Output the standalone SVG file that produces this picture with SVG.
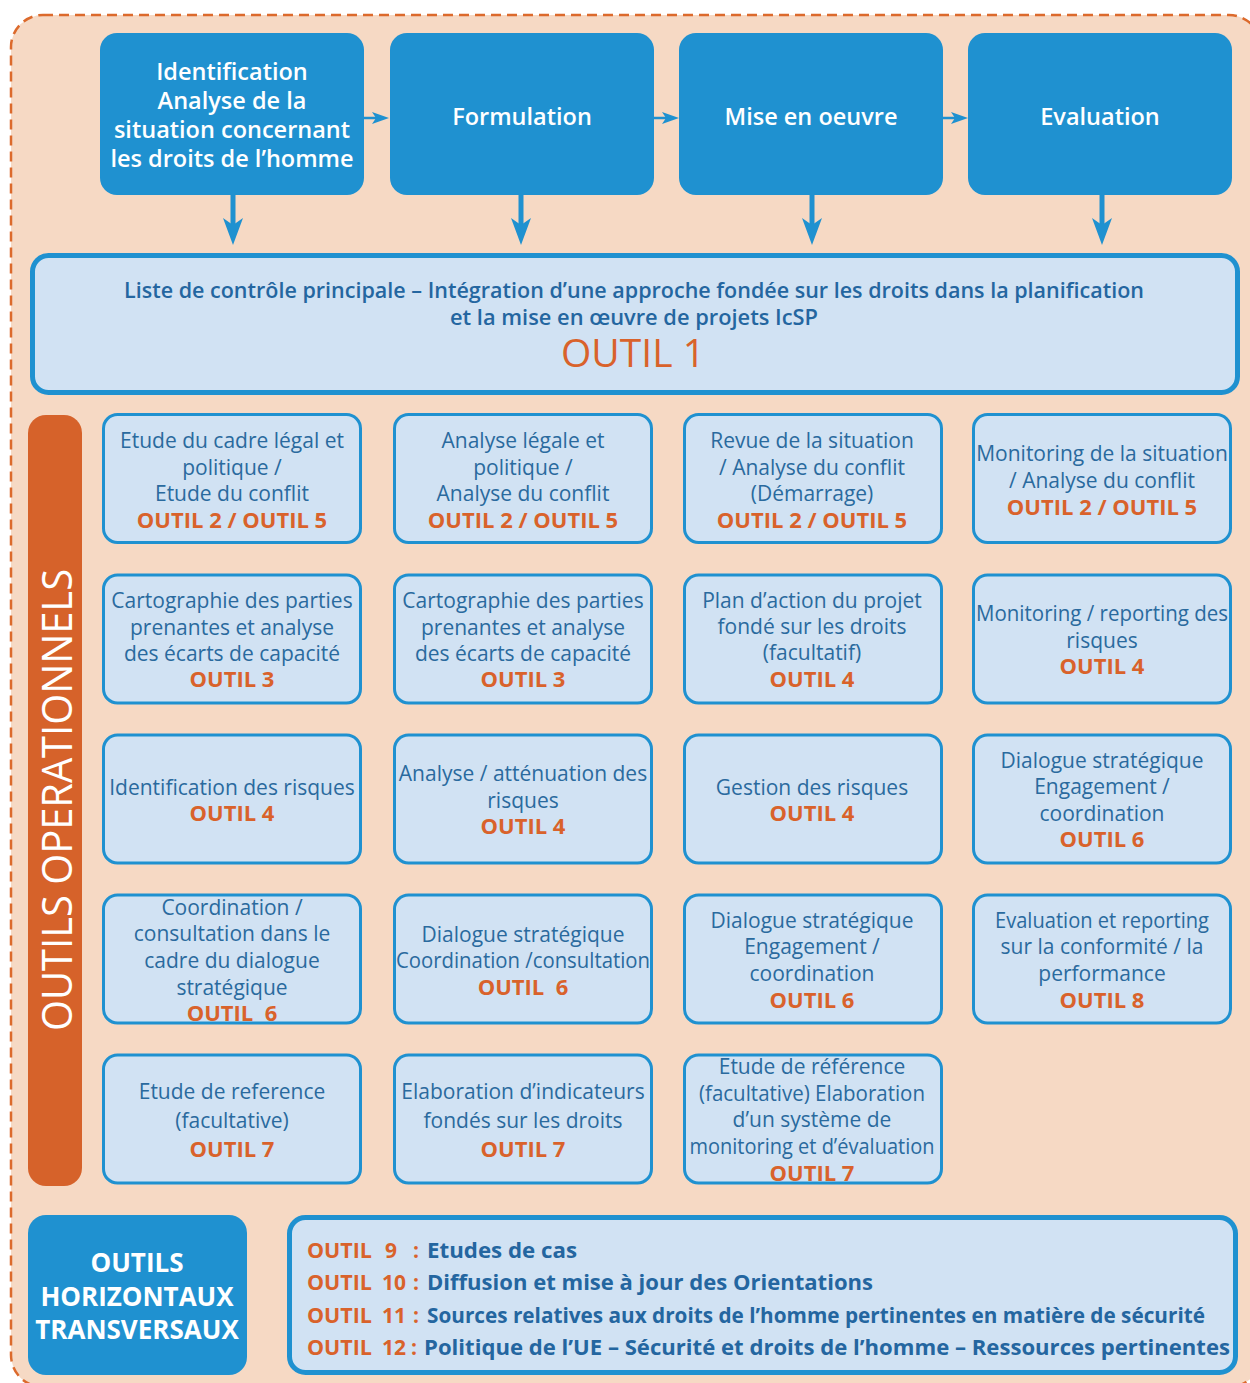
<svg xmlns="http://www.w3.org/2000/svg" width="1250" height="1383" viewBox="0 0 1250 1383">
<style>
.bg{fill:#f6d9c4;stroke:#dc6a2c;stroke-width:2.5;stroke-dasharray:10 6}
.phase{fill:#1f91d0}
.ptxt{font-family:"Open Sans","Noto Sans",sans-serif;font-size:23.5px;font-weight:600;fill:#ffffff;text-anchor:middle}
.main{fill:#d1e2f3;stroke:#1f91d0;stroke-width:5}
.mtxt{font-family:"Open Sans","Noto Sans",sans-serif;font-size:21px;font-weight:600;fill:#2466a0;text-anchor:middle}
.o1{font-family:"Open Sans","Noto Sans",sans-serif;font-size:39px;font-weight:500;fill:#d9622b;text-anchor:middle}
.box{fill:#d1e2f3;stroke:#1f91d0;stroke-width:3}
.t{font-family:"Open Sans","Noto Sans",sans-serif;font-size:21px;font-weight:400;fill:#2a6a9e;text-anchor:middle}
.o{font-family:"Open Sans","Noto Sans",sans-serif;font-size:22px;font-weight:700;fill:#d9622b;text-anchor:middle}
.bar{fill:#d6622a}
.vt{font-family:"Open Sans","Noto Sans",sans-serif;font-size:42px;font-weight:500;fill:#ffffff;text-anchor:middle}
.ht{font-family:"Open Sans","Noto Sans",sans-serif;font-size:26px;font-weight:700;fill:#ffffff;text-anchor:middle}
.bl{font-family:"Open Sans","Noto Sans",sans-serif;font-size:21px;font-weight:700}
.lo{fill:#d9622b}
.lb{fill:#2466a0}
.conn line{stroke:#1f91d0}
.conn path{fill:#1f91d0}
</style>

<rect class="bg" x="11" y="15" width="1250" height="1372" rx="32"/>

<g id="connectors" class="conn">
  <line x1="364" y1="118" x2="378" y2="118" stroke-width="2.5"/>
  <path d="M372,112 L389,118 L372,124 L376,118 Z"/>
  <line x1="654" y1="118" x2="668" y2="118" stroke-width="2.5"/>
  <path d="M662,112 L679,118 L662,124 L666,118 Z"/>
  <line x1="943" y1="118" x2="957" y2="118" stroke-width="2.5"/>
  <path d="M951,112 L968,118 L951,124 L955,118 Z"/>
  <line x1="233" y1="195" x2="233" y2="226" stroke-width="5"/>
  <path d="M223,218 L233,245 L243,218 L233,225 Z"/>
  <line x1="521" y1="195" x2="521" y2="226" stroke-width="5"/>
  <path d="M511,218 L521,245 L531,218 L521,225 Z"/>
  <line x1="812" y1="195" x2="812" y2="226" stroke-width="5"/>
  <path d="M802,218 L812,245 L822,218 L812,225 Z"/>
  <line x1="1102" y1="195" x2="1102" y2="226" stroke-width="5"/>
  <path d="M1092,218 L1102,245 L1112,218 L1102,225 Z"/>
</g>

<g id="phase-identification">
  <rect class="phase" x="100" y="33" width="264" height="162" rx="17"/>
  <text class="ptxt" x="232" y="80">Identification</text>
  <text class="ptxt" x="232" y="109">Analyse de la</text>
  <text class="ptxt" x="232" y="138">situation concernant</text>
  <text class="ptxt" x="232" y="167">les droits de l’homme</text>
</g>
<g id="phase-formulation">
  <rect class="phase" x="390" y="33" width="264" height="162" rx="17"/>
  <text class="ptxt" x="522" y="125">Formulation</text>
</g>
<g id="phase-mise-en-oeuvre">
  <rect class="phase" x="679" y="33" width="264" height="162" rx="17"/>
  <text class="ptxt" x="811" y="125">Mise en oeuvre</text>
</g>
<g id="phase-evaluation">
  <rect class="phase" x="968" y="33" width="264" height="162" rx="17"/>
  <text class="ptxt" x="1100" y="125">Evaluation</text>
</g>

<g id="outil1">
  <rect class="main" x="32.5" y="255.5" width="1205" height="137" rx="16"/>
  <text class="mtxt" x="634" y="298" textLength="1020" lengthAdjust="spacingAndGlyphs">Liste de contrôle principale – Intégration d’une approche fondée sur les droits dans la planification</text>
  <text class="mtxt" x="634" y="325" textLength="368" lengthAdjust="spacingAndGlyphs">et la mise en œuvre de projets IcSP</text>
  <text class="o1" x="633" y="367">OUTIL 1</text>
</g>

<g id="outils-operationnels">
  <rect class="bar" x="28" y="415" width="54" height="771" rx="18"/>
  <text class="vt" transform="translate(72,800) rotate(-90)" x="0" y="0" textLength="462" lengthAdjust="spacingAndGlyphs">OUTILS OPERATIONNELS</text>
</g>

<!-- Row 1 -->
<g id="r1c1">
  <rect class="box" x="103.5" y="414.5" width="257" height="128" rx="14"/>
  <text class="t" x="232" y="448">Etude du cadre légal et</text>
  <text class="t" x="232" y="475">politique /</text>
  <text class="t" x="232" y="501">Etude du conflit</text>
  <text class="o" x="232" y="528">OUTIL 2 / OUTIL 5</text>
</g>
<g id="r1c2">
  <rect class="box" x="394.5" y="414.5" width="257" height="128" rx="14"/>
  <text class="t" x="523" y="448">Analyse légale et</text>
  <text class="t" x="523" y="475">politique /</text>
  <text class="t" x="523" y="501">Analyse du conflit</text>
  <text class="o" x="523" y="528">OUTIL 2 / OUTIL 5</text>
</g>
<g id="r1c3">
  <rect class="box" x="684.5" y="414.5" width="257" height="128" rx="14"/>
  <text class="t" x="812" y="448">Revue de la situation</text>
  <text class="t" x="812" y="475">/ Analyse du conflit</text>
  <text class="t" x="812" y="501">(Démarrage)</text>
  <text class="o" x="812" y="528">OUTIL 2 / OUTIL 5</text>
</g>
<g id="r1c4">
  <rect class="box" x="973.5" y="414.5" width="257" height="128" rx="14"/>
  <text class="t" x="1102" y="461">Monitoring de la situation</text>
  <text class="t" x="1102" y="488">/ Analyse du conflit</text>
  <text class="o" x="1102" y="515">OUTIL 2 / OUTIL 5</text>
</g>

<!-- Row 2 -->
<g id="r2c1">
  <rect class="box" x="103.5" y="575" width="257" height="128" rx="14"/>
  <text class="t" x="232" y="608">Cartographie des parties</text>
  <text class="t" x="232" y="635">prenantes et analyse</text>
  <text class="t" x="232" y="661">des écarts de capacité</text>
  <text class="o" x="232" y="687">OUTIL 3</text>
</g>
<g id="r2c2">
  <rect class="box" x="394.5" y="575" width="257" height="128" rx="14"/>
  <text class="t" x="523" y="608">Cartographie des parties</text>
  <text class="t" x="523" y="635">prenantes et analyse</text>
  <text class="t" x="523" y="661">des écarts de capacité</text>
  <text class="o" x="523" y="687">OUTIL 3</text>
</g>
<g id="r2c3">
  <rect class="box" x="684.5" y="575" width="257" height="128" rx="14"/>
  <text class="t" x="812" y="608">Plan d’action du projet</text>
  <text class="t" x="812" y="634">fondé sur les droits</text>
  <text class="t" x="812" y="660">(facultatif)</text>
  <text class="o" x="812" y="687">OUTIL 4</text>
</g>
<g id="r2c4">
  <rect class="box" x="973.5" y="575" width="257" height="128" rx="14"/>
  <text class="t" x="1102" y="621" textLength="252" lengthAdjust="spacingAndGlyphs">Monitoring / reporting des</text>
  <text class="t" x="1102" y="648">risques</text>
  <text class="o" x="1102" y="674">OUTIL 4</text>
</g>

<!-- Row 3 -->
<g id="r3c1">
  <rect class="box" x="103.5" y="735" width="257" height="128" rx="14"/>
  <text class="t" x="232" y="795">Identification des risques</text>
  <text class="o" x="232" y="821">OUTIL 4</text>
</g>
<g id="r3c2">
  <rect class="box" x="394.5" y="735" width="257" height="128" rx="14"/>
  <text class="t" x="523" y="781">Analyse / atténuation des</text>
  <text class="t" x="523" y="808">risques</text>
  <text class="o" x="523" y="834">OUTIL 4</text>
</g>
<g id="r3c3">
  <rect class="box" x="684.5" y="735" width="257" height="128" rx="14"/>
  <text class="t" x="812" y="795">Gestion des risques</text>
  <text class="o" x="812" y="821">OUTIL 4</text>
</g>
<g id="r3c4">
  <rect class="box" x="973.5" y="735" width="257" height="128" rx="14"/>
  <text class="t" x="1102" y="768">Dialogue stratégique</text>
  <text class="t" x="1102" y="794">Engagement /</text>
  <text class="t" x="1102" y="821">coordination</text>
  <text class="o" x="1102" y="847">OUTIL 6</text>
</g>

<!-- Row 4 -->
<g id="r4c1">
  <rect class="box" x="103.5" y="895" width="257" height="128" rx="14"/>
  <text class="t" x="232" y="915">Coordination /</text>
  <text class="t" x="232" y="941">consultation dans le</text>
  <text class="t" x="232" y="968">cadre du dialogue</text>
  <text class="t" x="232" y="995">stratégique</text>
  <text class="o" x="232" y="1021" xml:space="preserve">OUTIL  6</text>
</g>
<g id="r4c2">
  <rect class="box" x="394.5" y="895" width="257" height="128" rx="14"/>
  <text class="t" x="523" y="942">Dialogue stratégique</text>
  <text class="t" x="523" y="968" textLength="254" lengthAdjust="spacingAndGlyphs">Coordination /consultation</text>
  <text class="o" x="523" y="995" xml:space="preserve">OUTIL  6</text>
</g>
<g id="r4c3">
  <rect class="box" x="684.5" y="895" width="257" height="128" rx="14"/>
  <text class="t" x="812" y="928">Dialogue stratégique</text>
  <text class="t" x="812" y="954">Engagement /</text>
  <text class="t" x="812" y="981">coordination</text>
  <text class="o" x="812" y="1008">OUTIL 6</text>
</g>
<g id="r4c4">
  <rect class="box" x="973.5" y="895" width="257" height="128" rx="14"/>
  <text class="t" x="1102" y="928" textLength="214" lengthAdjust="spacingAndGlyphs">Evaluation et reporting</text>
  <text class="t" x="1102" y="954">sur la conformité / la</text>
  <text class="t" x="1102" y="981">performance</text>
  <text class="o" x="1102" y="1008">OUTIL 8</text>
</g>

<!-- Row 5 -->
<g id="r5c1">
  <rect class="box" x="103.5" y="1055" width="257" height="128" rx="14"/>
  <text class="t" x="232" y="1099">Etude de reference</text>
  <text class="t" x="232" y="1128">(facultative)</text>
  <text class="o" x="232" y="1157">OUTIL 7</text>
</g>
<g id="r5c2">
  <rect class="box" x="394.5" y="1055" width="257" height="128" rx="14"/>
  <text class="t" x="523" y="1099">Elaboration d’indicateurs</text>
  <text class="t" x="523" y="1128">fondés sur les droits</text>
  <text class="o" x="523" y="1157">OUTIL 7</text>
</g>
<g id="r5c3">
  <rect class="box" x="684.5" y="1055" width="257" height="128" rx="14"/>
  <text class="t" x="812" y="1074">Etude de référence</text>
  <text class="t" x="812" y="1101" textLength="226" lengthAdjust="spacingAndGlyphs">(facultative) Elaboration</text>
  <text class="t" x="812" y="1127">d’un système de</text>
  <text class="t" x="812" y="1154" textLength="245" lengthAdjust="spacingAndGlyphs">monitoring et d’évaluation</text>
  <text class="o" x="812" y="1181">OUTIL 7</text>
</g>

<g id="outils-horizontaux">
  <rect class="phase" x="28" y="1215" width="219" height="160" rx="18"/>
  <text class="ht" x="137" y="1272">OUTILS</text>
  <text class="ht" x="137" y="1306">HORIZONTAUX</text>
  <text class="ht" x="137" y="1339">TRANSVERSAUX</text>
</g>

<g id="outils-transversaux-liste">
  <rect class="main" x="289.5" y="1217.5" width="946" height="155" rx="16"/>
  <text class="bl lo" x="307" y="1258" textLength="65" lengthAdjust="spacingAndGlyphs">OUTIL</text>
  <text class="bl lo" x="397" y="1258" text-anchor="end">9</text>
  <text class="bl lo" x="413" y="1258">:</text>
  <text class="bl lb" x="427" y="1258" textLength="150" lengthAdjust="spacingAndGlyphs">Etudes de cas</text>

  <text class="bl lo" x="307" y="1290" textLength="65" lengthAdjust="spacingAndGlyphs">OUTIL</text>
  <text class="bl lo" x="406" y="1290" text-anchor="end">10</text>
  <text class="bl lo" x="413" y="1290">:</text>
  <text class="bl lb" x="427" y="1290" textLength="446" lengthAdjust="spacingAndGlyphs">Diffusion et mise à jour des Orientations</text>

  <text class="bl lo" x="307" y="1323" textLength="65" lengthAdjust="spacingAndGlyphs">OUTIL</text>
  <text class="bl lo" x="406" y="1323" text-anchor="end">11</text>
  <text class="bl lo" x="413" y="1323">:</text>
  <text class="bl lb" x="427" y="1323" textLength="778" lengthAdjust="spacingAndGlyphs">Sources relatives aux droits de l’homme pertinentes en matière de sécurité</text>

  <text class="bl lo" x="307" y="1355" textLength="65" lengthAdjust="spacingAndGlyphs">OUTIL</text>
  <text class="bl lo" x="406" y="1355" text-anchor="end">12</text>
  <text class="bl lo" x="411" y="1355">:</text>
  <text class="bl lb" x="424" y="1355" textLength="806" lengthAdjust="spacingAndGlyphs">Politique de l’UE – Sécurité et droits de l’homme – Ressources pertinentes</text>
</g>
</svg>
